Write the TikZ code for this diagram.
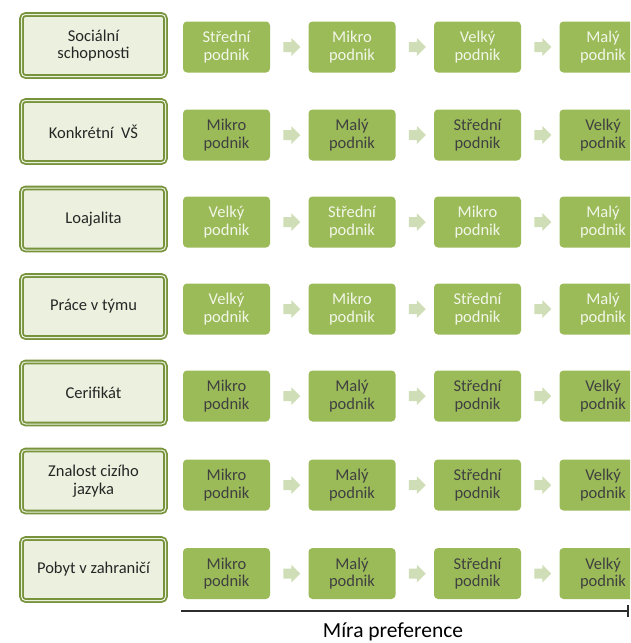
\documentclass[tikz,border=0pt]{standalone}
\usepackage{fontspec}
\setmainfont{Carlito}
\usetikzlibrary{shapes.arrows,arrows.meta,calc}

\definecolor{rimgreen}{RGB}{119,147,60}
\definecolor{palegreen}{RGB}{235,241,222}
\definecolor{boxgreen}{RGB}{155,187,89}
\definecolor{arrowgreen}{RGB}{207,222,182}
\definecolor{lighttext}{RGB}{242,246,232}
\definecolor{darktext}{RGB}{64,64,64}

\begin{document}
\begin{tikzpicture}[x=1pt,y=-1pt]
        \tikzstyle{every node}=[font=\fontsize{16.5}{17.5}\selectfont]
        \tikzstyle{skill}=[draw=rimgreen, double=palegreen, double distance=1pt, line width=1.8pt, fill=palegreen, rounded corners=4pt, minimum width=144pt, minimum height=62pt, align=center, text=black!85]
        \tikzstyle{firm}=[fill=boxgreen, rounded corners=4pt, minimum width=87pt, minimum height=51pt, align=center, inner sep=0pt]
        \tikzstyle{lightfirm}=[firm, text=lighttext]
        \tikzstyle{darkfirm}=[firm, text=darktext]
        \tikzstyle{pointer}=[single arrow, fill=arrowgreen, inner sep=4.8pt, minimum height=17pt, single arrow head extend=3.8pt, font=\fontsize{1}{1}\selectfont]
        \useasboundingbox (0,0) rectangle (630,643);
        \clip (0,0) rectangle (630,643);
        % row 1
        \node [skill] (s1) at (93.5,45.5) {Sociální\\schopnosti};
        \node [lightfirm] (f11) at (226.5,47) {Střední\\podnik};
        \node [lightfirm] (f12) at (352,47) {Mikro\\podnik};
        \node [lightfirm] (f13) at (477.5,47) {Velký\\podnik};
        \node [lightfirm] (f14) at (603,47) {Malý\\podnik};
        \node [pointer] (a11) at ($(f11.east)!0.5!(f12.west)$) {};
        \node [pointer] (a12) at ($(f12.east)!0.5!(f13.west)$) {};
        \node [pointer] (a13) at ($(f13.east)!0.5!(f14.west)$) {};
        % row 2
        \node [skill] (s2) at (93.5,131.5) {Konkrétní\ \ VŠ};
        \node [darkfirm] (f21) at (226.5,135) {Mikro\\podnik};
        \node [darkfirm] (f22) at (352,135) {Malý\\podnik};
        \node [darkfirm] (f23) at (477.5,135) {Střední\\podnik};
        \node [darkfirm] (f24) at (603,135) {Velký\\podnik};
        \node [pointer] (a21) at ($(f21.east)!0.5!(f22.west)$) {};
        \node [pointer] (a22) at ($(f22.east)!0.5!(f23.west)$) {};
        \node [pointer] (a23) at ($(f23.east)!0.5!(f24.west)$) {};
        % row 3
        \node [skill] (s3) at (93.5,219) {Loajalita};
        \node [lightfirm] (f31) at (226.5,222) {Velký\\podnik};
        \node [lightfirm] (f32) at (352,222) {Střední\\podnik};
        \node [lightfirm] (f33) at (477.5,222) {Mikro\\podnik};
        \node [lightfirm] (f34) at (603,222) {Malý\\podnik};
        \node [pointer] (a31) at ($(f31.east)!0.5!(f32.west)$) {};
        \node [pointer] (a32) at ($(f32.east)!0.5!(f33.west)$) {};
        \node [pointer] (a33) at ($(f33.east)!0.5!(f34.west)$) {};
        % row 4
        \node [skill] (s4) at (93.5,306.5) {Práce v týmu};
        \node [lightfirm] (f41) at (226.5,309) {Velký\\podnik};
        \node [lightfirm] (f42) at (352,309) {Mikro\\podnik};
        \node [lightfirm] (f43) at (477.5,309) {Střední\\podnik};
        \node [lightfirm] (f44) at (603,309) {Malý\\podnik};
        \node [pointer] (a41) at ($(f41.east)!0.5!(f42.west)$) {};
        \node [pointer] (a42) at ($(f42.east)!0.5!(f43.west)$) {};
        \node [pointer] (a43) at ($(f43.east)!0.5!(f44.west)$) {};
        % row 5
        \node [skill] (s5) at (93.5,393) {Cerifikát};
        \node [darkfirm] (f51) at (226.5,396) {Mikro\\podnik};
        \node [darkfirm] (f52) at (352,396) {Malý\\podnik};
        \node [darkfirm] (f53) at (477.5,396) {Střední\\podnik};
        \node [darkfirm] (f54) at (603,396) {Velký\\podnik};
        \node [pointer] (a51) at ($(f51.east)!0.5!(f52.west)$) {};
        \node [pointer] (a52) at ($(f52.east)!0.5!(f53.west)$) {};
        \node [pointer] (a53) at ($(f53.east)!0.5!(f54.west)$) {};
        % row 6
        \node [skill] (s6) at (93.5,481) {Znalost cizího\\jazyka};
        \node [darkfirm] (f61) at (226.5,485) {Mikro\\podnik};
        \node [darkfirm] (f62) at (352,485) {Malý\\podnik};
        \node [darkfirm] (f63) at (477.5,485) {Střední\\podnik};
        \node [darkfirm] (f64) at (603,485) {Velký\\podnik};
        \node [pointer] (a61) at ($(f61.east)!0.5!(f62.west)$) {};
        \node [pointer] (a62) at ($(f62.east)!0.5!(f63.west)$) {};
        \node [pointer] (a63) at ($(f63.east)!0.5!(f64.west)$) {};
        % row 7
        \node [skill] (s7) at (93.5,569.5) {Pobyt v zahraničí};
        \node [darkfirm] (f71) at (226.5,573.5) {Mikro\\podnik};
        \node [darkfirm] (f72) at (352,573.5) {Malý\\podnik};
        \node [darkfirm] (f73) at (477.5,573.5) {Střední\\podnik};
        \node [darkfirm] (f74) at (603,573.5) {Velký\\podnik};
        \node [pointer] (a71) at ($(f71.east)!0.5!(f72.west)$) {};
        \node [pointer] (a72) at ($(f72.east)!0.5!(f73.west)$) {};
        \node [pointer] (a73) at ($(f73.east)!0.5!(f74.west)$) {};
        % axis
        \coordinate (axisstart) at (181,611);
        \coordinate (axisend) at (628.5,611);
        \draw [line width=1.4pt, color=darktext!70!black, -{Bar[width=12pt,line width=1.4pt]}] (axisstart) -- (axisend);
        \node [font=\fontsize{21.5}{23}\selectfont] (axislabel) at (393,632) {Míra preference};
\end{tikzpicture}
\end{document}
